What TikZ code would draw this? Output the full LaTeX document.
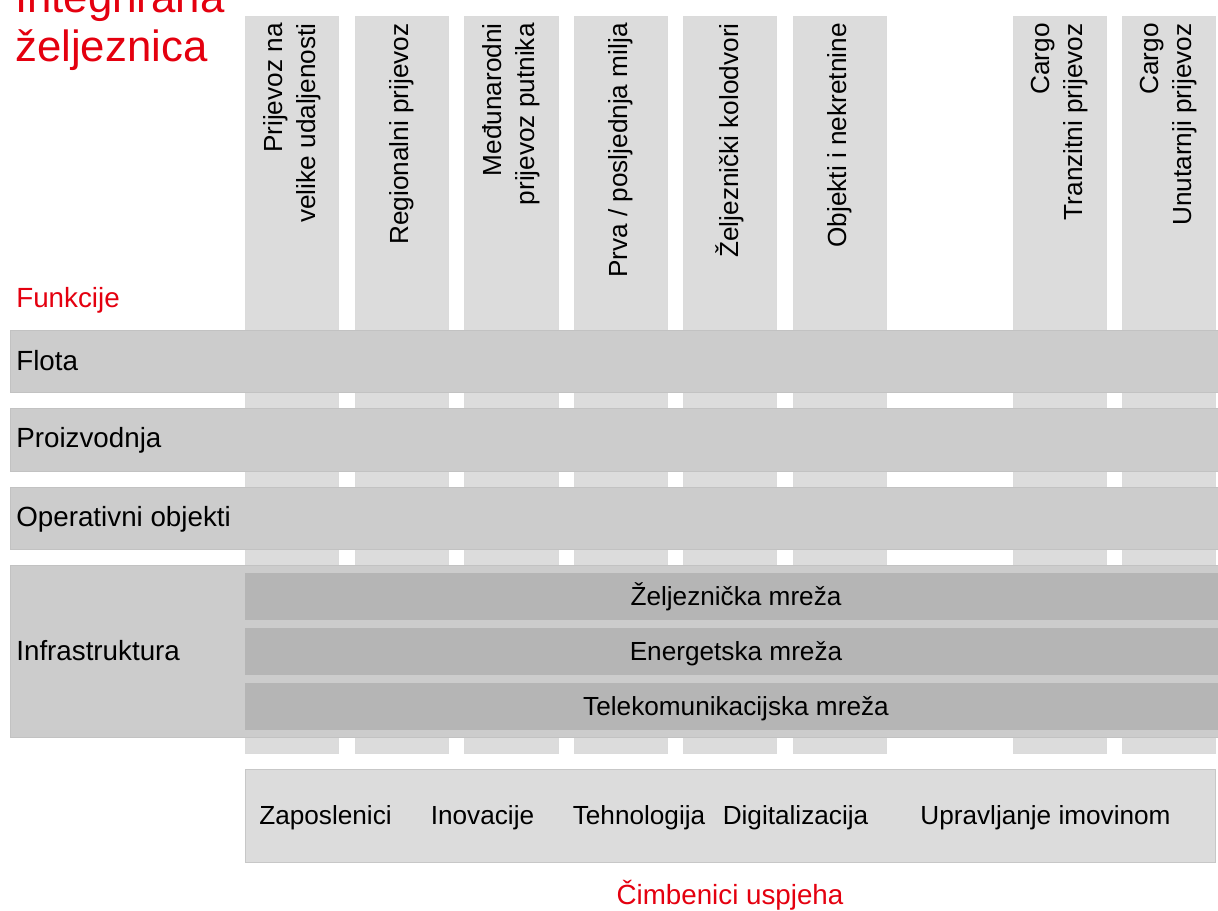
\documentclass[tikz,border=0pt]{standalone}
\usepackage{fontspec}
\setmainfont{Liberation Sans}
\definecolor{colgray}{HTML}{DCDCDC}
\definecolor{rowgray}{HTML}{CCCCCC}
\definecolor{netgray}{HTML}{B5B5B5}
\definecolor{dbred}{RGB}{228,0,15}
\tikzstyle{column} = [fill=colgray,
draw=black!14,
line width=0.5pt]
\tikzstyle{layer} = [fill=rowgray,
draw=black!24,
line width=0.5pt]
\tikzstyle{network} = [fill=netgray,
draw=none]
\tikzstyle{coltext} = [rotate=90,
anchor=east,
align=right,
inner sep=0pt,
font=\fontsize{14.9}{18.7}\selectfont]
\tikzstyle{rowtext} = [anchor=base west,
inner sep=0pt,
font=\fontsize{15.8}{18}\selectfont]
\tikzstyle{nettext} = [anchor=base,
inner sep=0pt,
font=\fontsize{14.9}{17}\selectfont]
\tikzstyle{redtext} = [text=dbred,
inner sep=0pt,
font=\fontsize{15.8}{18}\selectfont]
\tikzstyle{titletext} = [text=dbred,
anchor=base west,
inner sep=0pt,
font=\fontsize{24.9}{28}\selectfont]

\begin{document}
\begin{tikzpicture}[x=0.02cm, y=-0.02cm]
	\useasboundingbox (0,0) rectangle (1218,911);

	% columns
	\draw[column] (245,16) rectangle (338,753);
	\draw[column] (355,16) rectangle (448,753);
	\draw[column] (464,16) rectangle (558,753);
	\draw[column] (574,16) rectangle (667,753);
	\draw[column] (683,16) rectangle (776,753);
	\draw[column] (793,16) rectangle (886,753);
	\draw[column] (1013,16) rectangle (1106,753);
	\draw[column] (1122,16) rectangle (1215,753);

	\node (longdist) [coltext] at (292,23) {Prijevoz na\\velike udaljenosti};
	\node (regional) [coltext] at (401.5,23) {Regionalni prijevoz};
	\node (intl) [coltext] at (511,23) {Međunarodni\\prijevoz putnika};
	\node (lastmile) [coltext] at (620.5,23) {Prva / posljednja milja};
	\node (stations) [coltext] at (729.5,23) {Željeznički kolodvori};
	\node (estate) [coltext] at (839.5,23) {Objekti i nekretnine};
	\node (transit) [coltext] at (1059.5,23) {Cargo\\Tranzitni prijevoz};
	\node (domestic) [coltext] at (1168.5,23) {Cargo\\Unutarnji prijevoz};

	% functions
	\draw[layer] (10,330) rectangle (1219,392);
	\draw[layer] (10,408) rectangle (1219,471);
	\draw[layer] (10,487) rectangle (1219,549);
	\draw[layer] (10,565) rectangle (1219,737);

	\node (fleet) [rowtext] at (16,371) {Flota};
	\node (production) [rowtext] at (16,448) {Proizvodnja};
	\node (facilities) [rowtext] at (16,527) {Operativni objekti};
	\node (infra) [rowtext] at (16,661) {Infrastruktura};

	\draw[network] (245,573) rectangle (1218,620);
	\draw[network] (245,628) rectangle (1218,675);
	\draw[network] (245,683) rectangle (1218,730);

	\node (railnet) [nettext] at (736,606) {Željeznička mreža};
	\node (powernet) [nettext] at (736,661) {Energetska mreža};
	\node (telenet) [nettext] at (736,716) {Telekomunikacijska mreža};

	% success factors
	\draw[column, draw=black!22] (245,769) rectangle (1215,862);
	\node (staff) [nettext] at (325.5,825) {Zaposlenici};
	\node (innovation) [nettext] at (482.5,825) {Inovacije};
	\node (technology) [nettext] at (639,825) {Tehnologija};
	\node (digital) [nettext] at (795.5,825) {Digitalizacija};
	\node (assets) [nettext] at (1045.5,825) {Upravljanje imovinom};

	% red labels
	\node (title1) [titletext] at (15,13) {Integrirana};
	\node (title2) [titletext] at (15,62) {željeznica};
	\node (functions) [redtext, anchor=base west] at (16,308) {Funkcije};
	\node (factors) [redtext, anchor=base] at (730,905) {Čimbenici uspjeha};
\end{tikzpicture}
\end{document}
